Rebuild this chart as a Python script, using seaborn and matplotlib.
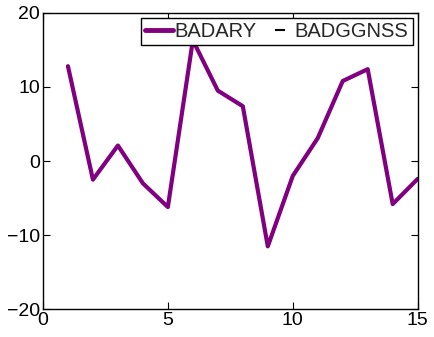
import matplotlib
matplotlib.use("Agg")
import matplotlib.pyplot as plt
import seaborn as sns
import pandas as pd
from matplotlib.lines import Line2D

# Series values
steps = [1, 2, 3, 4, 5, 6, 7, 8, 9, 10, 11, 12, 13, 14, 15]
badary = [12.8, -2.5, 2.1, -3.0, -6.2, 16.3, 9.5, 7.4, -11.5, -2.0, 3.1, 10.8, 12.4, -5.8, -2.4]
x_ticks = [0, 5, 10, 15]
y_ticks = [-20, -10, 0, 10, 20]

sns.set_style("ticks")
plt.rcParams["font.family"] = ["Liberation Sans", "DejaVu Sans"]
plt.rcParams["xtick.direction"] = "in"
plt.rcParams["ytick.direction"] = "in"

df = pd.DataFrame({"step": steps, "value": badary})

fig = plt.figure(figsize=(4.34, 3.37), dpi=100)
ax = fig.add_axes([0.099, 0.082, 0.8634, 0.880])

sns.lineplot(data=df, x="step", y="value", ax=ax, color="#800080",
             linewidth=3.0, legend=False)

ax.set_xlim(0, 15)
ax.set_ylim(-20, 20)
ax.set_xticks(x_ticks)
ax.set_yticks(y_ticks)
ax.set_xlabel("")
ax.set_ylabel("")
ax.tick_params(axis="both", which="both", top=True, right=True,
               length=5, width=0.8, labelsize=14, pad=2, colors="black")
for sp in ax.spines.values():
    sp.set_visible(True)
    sp.set_color("black")
    sp.set_linewidth(1.0)

handles = [
    Line2D([], [], color="#800080", linewidth=3.5),
    Line2D([], [], color="black", marker="_", markersize=7,
           markeredgewidth=1.5, linestyle="none"),
]
leg = ax.legend(handles, ["BADARY", "BADGGNSS"], loc="upper right", ncol=2,
                fontsize=14.5, frameon=True, fancybox=False, shadow=False,
                borderaxespad=0.25, borderpad=0.2, handlelength=1.4,
                handletextpad=0.05, columnspacing=0.45, framealpha=1)
leg.get_frame().set_edgecolor("black")
leg.get_frame().set_linewidth(1.0)

fig.savefig("out.png", dpi=100)
